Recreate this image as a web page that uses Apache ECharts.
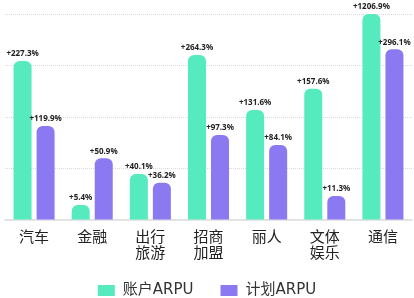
<!DOCTYPE html>
<html>
<head>
<meta charset="utf-8">
<script src="https://cdn.jsdelivr.net/npm/echarts@6/dist/echarts.min.js"></script>
<style>
  html, body { margin: 0; padding: 0; background: #fff; }
  #chart { width: 414px; height: 298px; }
</style>
</head>
<body>
<div id="chart"></div>
<script>
// categories and values (bar heights, labels are the growth rates)
const categories = ['汽车', '金融', '出行\n旅游', '招商\n加盟', '丽人', '文体\n娱乐', '通信'];
const accountValues = [154.3, 14.1, 44.3, 160.1, 106.6, 127.3, 200];
const planValues = [91.0, 59.6, 35.8, 82.2, 72.5, 22.9, 165.6];
const accountLabels = ['+227.3%', '+5.4%', '+40.1%', '+264.3%', '+131.6%', '+157.6%', '+1206.9%'];
const planLabels = ['+119.9%', '+50.9%', '+36.2%', '+97.3%', '+84.1%', '+11.3%', '+296.1%'];

const chart = echarts.init(document.getElementById('chart'));

const labelStyle = (texts) => ({
  show: true,
  position: 'top',
  distance: 3,
  fontSize: 8,
  fontWeight: 'bold',
  color: '#222',
  fontFamily: 'Noto Sans',
  formatter: (p) => texts[p.dataIndex]
});

chart.setOption({
  animation: false,
  grid: { left: 5, right: 2, top: 14, bottom: 78.5, containLabel: false },
  legend: {
    top: 278,
    left: 'center',
    icon: 'rect',
    itemWidth: 17,
    itemHeight: 11,
    itemGap: 27,
    textStyle: {
      fontSize: 15,
      color: '#333',
      fontFamily: 'DejaVu Sans, Noto Sans CJK SC',
      padding: [0, 0, 0, 3]
    },
    data: ['账户ARPU', '计划ARPU']
  },
  xAxis: {
    type: 'category',
    data: categories,
    axisTick: { show: false },
    axisLine: { lineStyle: { color: '#ddd', width: 1.5 } },
    axisLabel: {
      fontSize: 15,
      lineHeight: 16,
      margin: 9,
      color: '#222',
      fontFamily: 'Noto Sans CJK SC',
      interval: 0
    }
  },
  yAxis: {
    type: 'value',
    min: 0,
    max: 200,
    interval: 50,
    axisLabel: { show: false },
    axisLine: { show: false },
    axisTick: { show: false },
    splitLine: { lineStyle: { type: 'dotted', color: '#d9d9d9', width: 1 } }
  },
  series: [
    {
      name: '账户ARPU',
      type: 'bar',
      data: accountValues,
      barWidth: 18,
      barGap: '28%',
      itemStyle: { color: '#56EBBE', borderRadius: [6, 6, 0, 0] },
      label: labelStyle(accountLabels)
    },
    {
      name: '计划ARPU',
      type: 'bar',
      data: planValues,
      barWidth: 18,
      itemStyle: { color: '#8B79F1', borderRadius: [6, 6, 0, 0] },
      label: labelStyle(planLabels)
    }
  ]
});
</script>
</body>
</html>
